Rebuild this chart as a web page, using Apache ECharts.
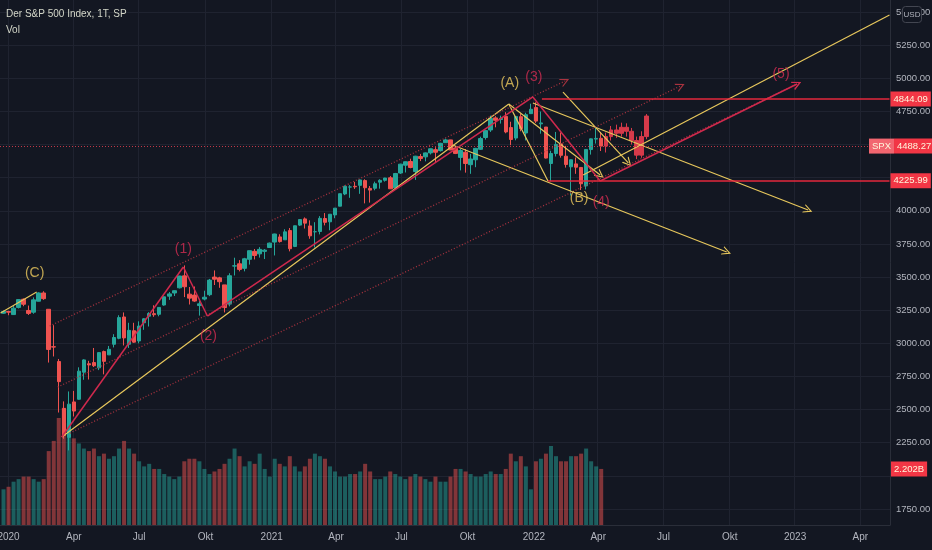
<!DOCTYPE html>
<html>
<head>
<meta charset="utf-8">
<title>Der S&amp;P 500 Index, 1T, SP</title>
<script src="https://cdn.jsdelivr.net/npm/echarts@6.0.0/dist/echarts.min.js"></script>
<style>
html, body { margin: 0; padding: 0; background: #131722; }
#chart { width: 932px; height: 550px; }
</style>
</head>
<body>
<div id="chart"></div>
<script>
var FONT = "'Liberation Sans', Arial, sans-serif";

// Wochenkerzen ab Montag 2019-12-23: [open, close, low, high]
var candles = [
	[3227, 3240, 3222, 3248], [3240, 3235, 3212, 3246], [3217, 3265, 3214, 3282], [3271, 3330, 3263, 3332],
	[3333, 3295, 3280, 3338], [3248, 3226, 3214, 3285], [3235, 3328, 3223, 3347], [3318, 3380, 3316, 3385],
	[3380, 3337, 3328, 3393], [3257, 2954, 2855, 3259], [2974, 2972, 2901, 3137], [2863, 2711, 2478, 2882],
	[2508, 2305, 2280, 2562], [2291, 2541, 2192, 2637], [2558, 2489, 2448, 2641], [2578, 2790, 2575, 2819],
	[2782, 2875, 2725, 2880], [2846, 2837, 2727, 2868], [2855, 2831, 2821, 2965], [2815, 2930, 2798, 2933],
	[2938, 2864, 2766, 2945], [2913, 2955, 2913, 2980], [2993, 3044, 2969, 3069], [3038, 3194, 3031, 3212],
	[3199, 3041, 2984, 3233], [2993, 3098, 2965, 3155], [3095, 3009, 3004, 3155], [3018, 3130, 3000, 3166],
	[3155, 3185, 3102, 3189], [3205, 3225, 3127, 3235], [3224, 3216, 3200, 3287], [3219, 3271, 3204, 3273],
	[3289, 3351, 3284, 3352], [3356, 3373, 3328, 3387], [3380, 3397, 3357, 3399], [3419, 3508, 3414, 3509],
	[3509, 3427, 3349, 3588], [3371, 3341, 3293, 3425], [3364, 3319, 3313, 3429], [3285, 3298, 3209, 3320],
	[3334, 3348, 3324, 3397], [3367, 3477, 3356, 3486], [3500, 3484, 3440, 3550], [3494, 3465, 3419, 3502],
	[3441, 3270, 3233, 3441], [3296, 3510, 3279, 3529], [3583, 3585, 3512, 3646], [3600, 3558, 3543, 3628],
	[3566, 3638, 3543, 3645], [3634, 3699, 3594, 3699], [3694, 3663, 3633, 3712], [3675, 3709, 3647, 3726],
	[3694, 3703, 3636, 3711], [3723, 3756, 3723, 3760], [3764, 3825, 3663, 3827], [3803, 3768, 3760, 3823],
	[3781, 3841, 3781, 3861], [3851, 3714, 3694, 3870], [3731, 3887, 3726, 3888], [3892, 3934, 3885, 3935],
	[3939, 3907, 3866, 3950], [3886, 3811, 3789, 3928], [3842, 3842, 3723, 3914], [3844, 3943, 3822, 3960],
	[3942, 3913, 3890, 3983], [3917, 3974, 3853, 3974], [3969, 4020, 3944, 4020], [4035, 4129, 4034, 4129],
	[4127, 4185, 4118, 4191], [4179, 4180, 4098, 4194], [4185, 4181, 4165, 4218], [4192, 4233, 4128, 4238],
	[4228, 4174, 4056, 4238], [4169, 4156, 4062, 4187], [4170, 4204, 4155, 4220], [4216, 4230, 4167, 4238],
	[4230, 4247, 4220, 4249], [4249, 4166, 4165, 4262], [4173, 4281, 4164, 4286], [4285, 4352, 4278, 4355],
	[4344, 4370, 4289, 4372], [4372, 4327, 4321, 4393], [4296, 4412, 4233, 4415], [4409, 4395, 4375, 4429],
	[4407, 4437, 4373, 4440], [4437, 4468, 4425, 4470], [4461, 4442, 4367, 4480], [4454, 4509, 4447, 4513],
	[4514, 4535, 4513, 4545], [4535, 4459, 4458, 4536], [4474, 4433, 4428, 4487], [4403, 4455, 4305, 4466],
	[4442, 4357, 4288, 4466], [4348, 4391, 4279, 4429], [4385, 4471, 4329, 4475], [4464, 4545, 4459, 4559],
	[4553, 4605, 4537, 4608], [4610, 4697, 4595, 4718], [4701, 4683, 4630, 4714], [4689, 4698, 4658, 4718],
	[4712, 4595, 4585, 4744], [4628, 4538, 4495, 4672], [4549, 4712, 4532, 4713], [4710, 4620, 4600, 4731],
	[4587, 4725, 4531, 4740], [4733, 4766, 4733, 4808], [4779, 4677, 4663, 4819], [4656, 4663, 4582, 4749],
	[4632, 4398, 4395, 4632], [4357, 4432, 4223, 4453], [4432, 4501, 4410, 4595], [4505, 4419, 4401, 4590],
	[4412, 4349, 4326, 4490], [4332, 4385, 4115, 4386], [4354, 4329, 4279, 4402], [4327, 4204, 4157, 4327],
	[4188, 4463, 4161, 4465], [4462, 4543, 4424, 4546], [4541, 4546, 4507, 4637], [4547, 4488, 4451, 4593]
];

// Volumen (Mrd., Tagesschnitt je Woche)
var volumes = [
	1.4, 1.5, 1.7, 1.8, 1.9, 1.9, 1.8, 1.7, 1.8, 2.9,
	3.3, 4.2, 4.6, 4.0, 3.4, 3.2, 3.0, 2.9, 3.0, 2.7,
	2.8, 2.6, 2.7, 3.0, 3.3, 3.0, 2.8, 2.5, 2.3, 2.4,
	2.2, 2.2, 2.0, 1.9, 1.8, 1.9, 2.5, 2.6, 2.6, 2.5,
	2.2, 2.0, 2.1, 2.2, 2.4, 2.6, 3.0, 2.7, 2.3, 2.5,
	2.4, 2.8, 2.2, 1.9, 2.6, 2.4, 2.3, 2.7, 2.3, 2.1,
	2.3, 2.6, 2.8, 2.7, 2.6, 2.3, 2.1, 1.9, 1.9, 2.0,
	2.0, 2.1, 2.4, 2.1, 1.8, 1.8, 1.9, 2.1, 2.0, 1.9,
	1.8, 1.9, 2.0, 1.9, 1.8, 1.7, 1.9, 1.7, 1.7, 1.9,
	2.2, 2.2, 2.1, 2.0, 1.9, 1.9, 2.0, 2.1, 2.0, 2.0,
	2.2, 2.8, 2.5, 2.7, 2.3, 1.4, 2.5, 2.6, 2.8, 3.1,
	2.7, 2.5, 2.5, 2.7, 2.7, 2.8, 3.0, 2.5, 2.3, 2.2
];
var lastVolume = 2.202;
var lastPrice = 4488.27;

// Balkenmuster (Projektion) ab Woche 2022-04-11
var ghostCandles = [
	[4488, 4560, 4440, 4590], [4560, 4610, 4530, 4640], [4610, 4585, 4550, 4650],
	[4585, 4630, 4560, 4665], [4630, 4600, 4560, 4660], [4600, 4530, 4500, 4625],
	[4530, 4420, 4390, 4560], [4420, 4560, 4400, 4600], [4560, 4715, 4540, 4730]
];

// Zeichnungen: [von, bis, Pfeil]
var crimsonPath = [['2020-03-16', 2293], ['2020-09-01', 3576], ['2020-10-05', 3206], ['2021-12-31', 4859], ['2022-04-05', 4225]];
var crimsonArrow = [['2022-04-05', 4225], ['2023-01-04', 4957]];
var yellowLines = [
	[['2019-12-20', 3229], ['2020-02-10', 3387], false],
	[['2020-03-16', 2293], ['2021-11-29', 4806], false],
	[['2021-11-29', 4806], ['2022-01-21', 4225], false],
	[['2021-11-29', 4806], ['2022-04-05', 4270], true],
	[['2021-12-31', 4813], ['2023-01-19', 4006], true],
	[['2021-09-10', 4496], ['2022-09-28', 3689], true],
	[['2022-03-11', 4270], ['2023-05-12', 5477], false],
	[['2022-02-11', 4896], ['2022-05-13', 4361], true]
];
var channelLines = [
	[['2020-02-27', 3131], ['2022-02-15', 4979], true],
	[['2020-03-10', 2670], ['2022-07-26', 4942], true],
	[['2020-03-26', 2323], ['2023-01-04', 4957], true]
];
var levelDates = ['2022-01-13', '2022-01-21'];
var levelPrices = [4844.09, 4225.99];

var waveNames = ['(C)', '(1)', '(2)', '(A)', '(3)', '(B)', '(4)', '(5)'];
var waveDates = ['2020-02-06', '2020-09-01', '2020-10-06', '2021-11-30', '2022-01-03', '2022-03-07', '2022-04-06', '2022-12-13'];
var wavePrices = [3531, 3712, 3055, 4964, 5010, 4097, 4066, 5032];
var waveYellow = [true, false, false, true, false, true, false, false];

var monthNames = { 4: 'Apr', 7: 'Jul', 10: 'Okt' };
var hiddenPriceTicks = [2000, 4250, 4500];

// Handelstage (Mo-Fr) ab 2019-12-20
var days = [];
for (var t = Date.UTC(2019, 11, 20); days.length < 886; t += 86400000) {
	var wd = new Date(t).getUTCDay();
	if (wd !== 0 && wd !== 6) days.push(new Date(t).toISOString().slice(0, 10));
}

function snap(s) {
	var t = Date.parse(s + 'T00:00:00Z');
	var wd = new Date(t).getUTCDay();
	if (wd === 6) t -= 86400000;
	if (wd === 0) t -= 2 * 86400000;
	return new Date(t).toISOString().slice(0, 10);
}
function idx(s) { return days.indexOf(snap(s)); }
// Mittwoch der Woche k (Montag 2019-12-23 = Index 1)
function weekIdx(k) { return 3 + 5 * k; }

function isQuarterStart(i) {
	var m = +days[i].slice(5, 7);
	if ((m - 1) % 3 !== 0) return false;
	return i === 0 || days[i - 1].slice(5, 7) !== days[i].slice(5, 7);
}

var chevron = 'path://M0,10 L5,0 L10,10 L8.6,10 L5,2.8 L1.4,10 Z';
var yellowStyle = { color: '#e7c75c', width: 1.2, type: 'solid' };
var crimsonStyle = { color: '#d0294d', width: 1.5, type: 'solid' };
var dottedStyle = { color: '#a8333f', width: 1.3, type: [1, 2] };
var levelStyle = { color: '#e5283c', width: 1.5, type: 'solid' };

function seg(p, q, arrow, style) {
	return [
		{ coord: [idx(p[0]), p[1]], symbol: 'none', lineStyle: style },
		{ coord: [idx(q[0]), q[1]], symbol: arrow ? chevron : 'none', symbolSize: arrow ? 9 : 0 }
	];
}

function tagLabel(text) {
	return {
		show: true, position: 'end', distance: 1, formatter: text,
		color: '#fff6dc', backgroundColor: '#f23645', padding: [3, 3, 2, 3],
		fontSize: 9.5, fontFamily: FONT
	};
}

var lines = [];
yellowLines.forEach(function(l) { lines.push(seg(l[0], l[1], l[2], yellowStyle)); });
channelLines.forEach(function(l) { lines.push(seg(l[0], l[1], l[2], dottedStyle)); });
for (var i = 0; i < crimsonPath.length - 1; i++) {
	lines.push(seg(crimsonPath[i], crimsonPath[i + 1], false, crimsonStyle));
}
lines.push(seg(crimsonArrow[0], crimsonArrow[1], true, crimsonStyle));
levelPrices.forEach(function(p, i) {
	lines.push([
		{ coord: [idx(levelDates[i]), p], symbol: 'none', lineStyle: levelStyle, label: tagLabel(p.toFixed(2)) },
		{ coord: [days.length - 1, p], symbol: 'none' }
	]);
});
lines.push({
	yAxis: lastPrice,
	lineStyle: { color: '#c03848', width: 1, type: [1, 2] },
	label: {
		show: true, position: 'end', distance: -21,
		formatter: '{a|SPX}{b|' + lastPrice.toFixed(2) + '}',
		rich: {
			a: { color: '#fff6dc', backgroundColor: '#f26670', padding: [3, 3, 2, 3], fontSize: 9.5, fontFamily: FONT },
			b: { color: '#fff6dc', backgroundColor: '#f23645', padding: [3, 3, 2, 3], fontSize: 9.5, fontFamily: FONT }
		}
	}
});

var myChart = echarts.init(document.getElementById('chart'));
var option = {
	backgroundColor: '#131722',
	animation: false,
	textStyle: { fontFamily: FONT },
	grid: [
		{ left: 0, right: 42, top: 12, bottom: 41, outerBoundsMode: 'none' },
		{ left: 0, right: 42, top: 0, bottom: 25, outerBoundsMode: 'none' }
	],
	xAxis: [
		{ type: 'category', gridIndex: 0, data: days, show: false },
		{
			type: 'category', gridIndex: 1, data: days,
			axisLine: { lineStyle: { color: '#2a2e39' } },
			axisTick: { show: false },
			axisLabel: {
				interval: function(i) { return isQuarterStart(i); },
				formatter: function(v) {
					var m = +v.slice(5, 7);
					return m === 1 ? v.slice(0, 4) : monthNames[m];
				},
				color: '#b2b5be', fontSize: 10, margin: 7, fontFamily: FONT
			},
			splitLine: {
				show: true,
				interval: function(i) { return isQuarterStart(i); },
				lineStyle: { color: '#1f2330' }
			}
		}
	],
	yAxis: [
		{
			type: 'value', gridIndex: 0, position: 'right',
			min: 1750, max: 5500, interval: 250,
			axisLine: { show: false }, axisTick: { show: false },
			axisLabel: {
				color: '#b2b5be', fontSize: 9.5, margin: 6, fontFamily: FONT,
				formatter: function(v) { return hiddenPriceTicks.indexOf(v) >= 0 ? '' : v.toFixed(2); }
			},
			splitLine: { lineStyle: { color: '#1f2330' } }
		},
		{
			type: 'value', gridIndex: 1, position: 'right', min: 0, max: 20.6,
			axisLine: { show: true, lineStyle: { color: '#2a2e39' } },
			axisTick: { show: false }, axisLabel: { show: false }, splitLine: { show: false }
		}
	],
	graphic: [
		{ type: 'text', left: 6, top: 9, z: 100, style: { text: 'Der S&P 500 Index, 1T, SP', fill: '#d3d6c8', fontSize: 10, fontFamily: FONT } },
		{ type: 'text', left: 6, top: 25, z: 100, style: { text: 'Vol', fill: '#d3d6c8', fontSize: 10, fontFamily: FONT } },
		{
			type: 'group', left: 902, top: 6, z: 100,
			children: [
				{ type: 'rect', z: 100, shape: { x: 0, y: 0, width: 19, height: 16, r: 3 }, style: { fill: '#131722', stroke: '#434651' } },
				{ type: 'text', z: 101, style: { text: 'USD', x: 9.5, y: 8, align: 'center', verticalAlign: 'middle', fill: '#b2b5be', fontSize: 8, fontFamily: FONT } }
			]
		}
	],
	series: [
		{
			type: 'candlestick', xAxisIndex: 0, yAxisIndex: 0, barWidth: 4, z: 2,
			encode: { x: 0, y: [1, 2, 3, 4] },
			itemStyle: { color: '#26a69a', color0: '#ef5350', borderColor: '#26a69a', borderColor0: '#ef5350', borderWidth: 1 },
			data: candles.map(function(c, k) { return [weekIdx(k), c[0], c[1], c[2], c[3]]; })
		},
		{
			type: 'candlestick', xAxisIndex: 0, yAxisIndex: 0, barWidth: 4, z: 2,
			encode: { x: 0, y: [1, 2, 3, 4] },
			itemStyle: { color: '#d63a4a', color0: '#d63a4a', borderColor: '#d63a4a', borderColor0: '#d63a4a', borderWidth: 1 },
			data: ghostCandles.map(function(c, j) { return [weekIdx(candles.length + j), c[0], c[1], c[2], c[3]]; })
		},
		{
			type: 'bar', xAxisIndex: 1, yAxisIndex: 1, barWidth: 4, z: 3,
			data: volumes.map(function(v, k) {
				var up = candles[k][1] >= candles[k][0];
				return { value: [weekIdx(k), v], itemStyle: { color: up ? 'rgba(38,166,154,0.5)' : 'rgba(239,83,80,0.5)' } };
			}),
			markLine: {
				silent: true, symbol: ['none', 'none'], animation: false,
				data: [{ yAxis: lastVolume, lineStyle: { color: 'rgba(0,0,0,0)', width: 1 }, label: tagLabel(lastVolume.toFixed(3) + 'B') }]
			}
		},
		{
			type: 'line', xAxisIndex: 0, yAxisIndex: 0, data: [], z: 5,
			markLine: {
				silent: true, symbol: ['none', 'none'], animation: false,
				label: { show: false },
				data: lines
			}
		},
		{
			type: 'scatter', xAxisIndex: 0, yAxisIndex: 0, symbolSize: 1, z: 6, silent: true,
			itemStyle: { color: 'rgba(0,0,0,0)' },
			data: waveNames.map(function(n, i) {
				return {
					value: [idx(waveDates[i]), wavePrices[i]],
					label: { show: true, position: 'inside', formatter: n, color: waveYellow[i] ? '#ecc95e' : '#d42d52', fontSize: 14, fontFamily: FONT }
				};
			})
		}
	]
};
myChart.setOption(option);
</script>
</body>
</html>
